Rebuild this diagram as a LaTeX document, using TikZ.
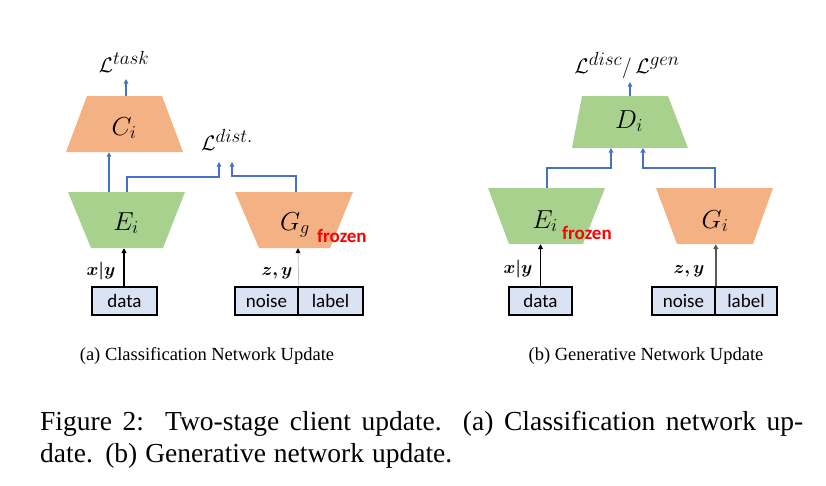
\RequirePackage{fix-cm}
\documentclass[tikz,border=0pt]{standalone}
\usepackage{amsmath}
\usepackage{bm}
\usepackage{fontspec}
\newfontfamily\boxfont{Carlito}
\newfontfamily\capfont{Liberation Serif}
\usetikzlibrary{arrows.meta}
\definecolor{orng}{HTML}{F4B183}
\definecolor{grn}{HTML}{A9D18E}
\definecolor{blu}{HTML}{4472C4}
\definecolor{boxfill}{HTML}{DAE3F3}
\definecolor{frz}{HTML}{FF0000}
\newcommand{\bigsup}[1]{^{\hbox{\fontsize{19}{22}\selectfont$#1$}}}
\tikzset{
  trap/.style={inner sep=0pt, draw=none},
  lab/.style={inner sep=0pt, anchor=base, font=\fontsize{26}{30}\selectfont},
  loss/.style={inner sep=0pt, anchor=base, font=\fontsize{21}{25}\selectfont},
  inlab/.style={inner sep=0pt, anchor=base, font=\fontsize{18}{22}\selectfont},
  frozentxt/.style={inner sep=0pt, anchor=base west, text=frz, font=\boxfont\bfseries\fontsize{19}{22}\selectfont},
  databox/.style={draw=black, line width=1.6pt, fill=boxfill, inner sep=0pt, minimum height=28pt, font=\boxfont\fontsize{19}{22}\selectfont},
  bluearr/.style={draw=blu, line width=1.2pt, -{Triangle[width=4.5pt,length=4.5pt]}},
  bluearrthick/.style={draw=blu, line width=2pt, -{Triangle[width=5pt,length=4.5pt]}},
  blkarr/.style={draw=black, line width=1.3pt, -{Triangle[width=5pt,length=5pt]}},
  caption/.style={inner sep=0pt, font=\capfont\fontsize{18.5}{22}\selectfont},
  figcap/.style={inner sep=0pt, anchor=base west, font=\capfont\fontsize{27.5}{32}\selectfont}
}
\begin{document}
\begin{tikzpicture}[x=1pt,y=-1pt]
\useasboundingbox (0,0) rectangle (826,485);
% ---------- left panel ----------
\fill[orng] (87,96) -- (162,96) -- (183,152) -- (66,152) -- cycle;
\node[trap, minimum width=117pt, minimum height=56pt] (C) at (124.5,124) {};
\fill[grn] (68,192) -- (185,192) -- (163,248) -- (91,248) -- cycle;
\node[trap, minimum width=117pt, minimum height=56pt] (E) at (126.5,220) {};
\fill[orng] (235,192) -- (353,192) -- (330,248) -- (259,248) -- cycle;
\node[trap, minimum width=118pt, minimum height=56pt] (G) at (294,220) {};

\node[lab] (Clab) at (124,135) {$C_i$};
\node[lab] (Elab) at (126,230) {$E_i$};
\node[lab] (Glab) at (295,230) {$G_g$};
\node[frozentxt] (frzA) at (317,242) {frozen};

\node[loss] (Ltask) at (124,72) {$\mathcal{L}\bigsup{task}$};
\node[loss] (Ldist) at (227,150) {$\mathcal{L}\bigsup{dist.}$};

\node[databox, minimum width=65pt] (data) at (124.5,301) {data};
\node[databox, minimum width=63pt] (noise) at (266.5,301) {noise};
\node[databox, minimum width=65pt] (label) at (330.5,301) {label};

\node[inlab] (xyA) at (101,275) {$\bm{x|y}$};
\node[inlab] (zyA) at (277,275) {$\bm{z,y}$};

\coordinate (tA) at (126,79);
\coordinate (dA1) at (219,162);
\coordinate (dA2) at (232,162);
\draw[bluearr] (C.north -| tA) -- (tA);
\draw[bluearr] ([xshift=-17.5pt]E.north) -- ([xshift=-15.5pt]C.south);
\draw[bluearr] ([xshift=0.5pt]E.north) |- ([yshift=-15pt]dA1) -- (dA1);
\draw[bluearr] ([xshift=2pt]G.north) |- ([yshift=-14pt]dA2) -- (dA2);
\draw[blkarr] ([xshift=-0.5pt]data.north) -- ([xshift=-2.5pt]E.south);
\draw[draw=black!25, line width=0.8pt] (noise.north east) -- ([xshift=4pt,yshift=-5pt]G.south);
\fill[black] ([xshift=1.5pt,yshift=-5pt]G.south) -- ([xshift=4pt]G.south) -- ([xshift=6.5pt,yshift=-5pt]G.south) -- cycle;

% ---------- right panel ----------
\fill[grn] (582,96) -- (668,96) -- (688,148) -- (572,148) -- cycle;
\node[trap, minimum width=116pt, minimum height=52pt] (D) at (630,122) {};
\fill[grn] (488,188) -- (605,188) -- (583,244) -- (509,244) -- cycle;
\node[trap, minimum width=117pt, minimum height=56pt] (E2) at (546.5,216) {};
\fill[orng] (656,188) -- (773,188) -- (753,244) -- (677,244) -- cycle;
\node[trap, minimum width=117pt, minimum height=56pt] (G2) at (714.5,216) {};

\node[lab] (Dlab) at (629,128) {$D_i$};
\node[lab] (E2lab) at (545,228) {$E_i$};
\node[frozentxt] (frzB) at (562,239) {frozen};
\node[lab] (G2lab) at (715,228) {$G_i$};

\node[loss] (Ldg) at (627,73) {$\mathcal{L}\bigsup{disc}/\,\mathcal{L}\bigsup{gen}$};

\node[databox, minimum width=63pt] (data2) at (540.5,301) {data};
\node[databox, minimum width=63pt] (noise2) at (683.5,301) {noise};
\node[databox, minimum width=62pt] (label2) at (746,301) {label};

\node[inlab] (xyB) at (518,273) {$\bm{x|y}$};
\node[inlab] (zyB) at (689,273) {$\bm{z,y}$};

\coordinate (tB) at (630,82);
\coordinate (dB1) at (611,148);
\coordinate (dB2) at (643,148);
\draw[bluearr] (D.north -| tB) -- (tB);
\draw[bluearr] ([xshift=0.5pt]E2.north) |- ([yshift=-20pt]dB1) -- (dB1);
\draw[bluearrthick] ([xshift=0.5pt]G2.north) |- ([yshift=-20pt]dB2) -- (dB2);
\draw[blkarr] (data2.north) -- (E2.south -| data2.north);
\draw[draw=black!65, line width=1.5pt, -{Triangle[width=5pt,length=5pt]}] (noise2.north east) -- (G2.south -| noise2.north east);

% ---------- captions ----------
\node[caption] (capA) at (207,356) {(a) Classification Network Update};
\node[caption] (capB) at (646,356) {(b) Generative Network Update};
\node[figcap] (fig1) at (40,430) {\makebox[763pt][s]{Figure 2:\ \ Two-stage client update.\ \ (a) Classification network up-}};
\node[figcap] (fig2) at (40,462) {\makebox[412pt][s]{date. (b) Generative network update.}};
\end{tikzpicture}
\end{document}
